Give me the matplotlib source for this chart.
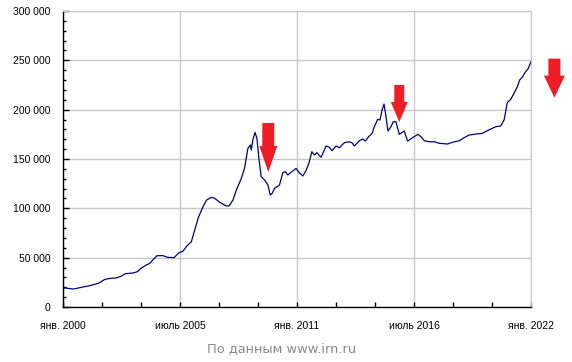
import matplotlib
matplotlib.use('Agg')
import matplotlib.pyplot as plt
import matplotlib.transforms as mtransforms
from matplotlib.patches import Polygon
from matplotlib.ticker import MultipleLocator, FuncFormatter

# months since Jan 2000 and price (rub per sq.m)
months = [0, 6, 10.5, 15, 20, 23.6, 26.5, 30, 33, 35, 39.6, 42, 44, 47, 49,
          51, 53, 56.5, 59, 62.7, 65, 67.7, 70, 72.4, 74.3, 76.4, 79, 81,
          83.7, 85.6, 88.4, 92.1, 93.6, 95.9, 97.8, 100.6, 102.4, 104.3,
          105.7, 106.2, 107.1, 108.3, 109.4, 110.5, 111.8, 113.7, 115.6,
          116.9, 118, 119.3, 122.1, 124, 125.5, 126.8, 129, 131.5, 133,
          135.3, 137, 138.6, 140.4, 141.8, 143.2, 145.6, 148.4, 150.3, 151.8,
          154, 155.9, 158.7, 161.2, 163, 164.4, 167.2, 169, 170.6, 172.4,
          174.4, 175.6, 177.5, 178.8, 180, 181.1, 182.2, 183.3, 185, 186.3,
          187.8, 189.7, 192.5, 194.4, 197.2, 200.2, 201.9, 203.8, 206.6,
          209.4, 212.2, 216.9, 219.7, 223.5, 226.3, 229.1, 232.9, 236.6,
          239.4, 242.2, 244.1, 246.9, 248.8, 249.7, 250.6, 252.6, 254.4,
          256.3, 257.6, 259.1, 260.6, 262.5, 264]
prices = [19500, 18200, 20000, 21600, 24000, 28000, 29000, 29400, 31400,
          33700, 34500, 35800, 39200, 42600, 44300, 48300, 52000, 52000,
          50300, 50000, 54400, 56700, 62100, 66200, 78000, 91000, 101700,
          108400, 111200, 110100, 106100, 102400, 102400, 108400, 118600,
          130400, 140500, 160800, 164200, 159100, 169300, 177000, 171000,
          150700, 132100, 128700, 123600, 113500, 115200, 120300, 123600,
          136100, 137100, 133800, 137100, 140500, 136500, 132800, 138000,
          145000, 157400, 154000, 156400, 151700, 163200, 161800, 158400,
          163200, 161400, 166500, 167500, 166500, 163200, 168500, 170300,
          168200, 172600, 176000, 182700, 190200, 189500, 199700, 205700,
          192900, 178400, 182700, 187800, 187800, 175000, 178400, 168200,
          171600, 175000, 172600, 168500, 167500, 167500, 165900, 165200,
          166900, 168500, 171600, 174300, 175300, 176000, 178700, 181100,
          182700, 183400, 189500, 197900, 207100, 210500, 216600, 223300,
          230100, 232800, 237500, 241900, 248600]

tick_months = [0, 66, 132, 198, 264]
tick_labels = ['янв. 2000', 'июль 2005', 'янв. 2011', 'июль 2016', 'янв. 2022']

# arrows: (tip month, tip price)
arrow_tips = [(115.8, 136800), (189.7, 187500), (277.2, 212200)]

fig = plt.figure(figsize=(5.72, 3.62), dpi=100)
ax = fig.add_axes([63 / 572, 55 / 362, 468 / 572, 296 / 362])

ax.plot(months, prices, color='#000080', lw=0.9)

ax.set_xlim(0, 264)
ax.set_ylim(0, 300000)
ax.set_xticks(tick_months)
ax.set_xticklabels(tick_labels)
ax.xaxis.set_minor_locator(MultipleLocator(22))
ax.yaxis.set_major_locator(MultipleLocator(50000))
ax.yaxis.set_minor_locator(MultipleLocator(10000))
ax.yaxis.set_major_formatter(FuncFormatter(lambda v, p: f'{int(v):,}'.replace(',', ' ')))

ax.grid(True, which='major', color='#c8c8c8', lw=1)
ax.set_axisbelow(True)
for s in ['top', 'right']:
    ax.spines[s].set_color('#c8c8c8')
for s in ['left', 'bottom']:
    ax.spines[s].set_color('black')
    ax.spines[s].set_linewidth(1)

ax.tick_params(axis='y', which='major', direction='in', length=4, width=1, pad=9,
               labelsize=7.5)
ax.tick_params(axis='y', which='minor', direction='in', length=2.5, width=1)
ax.tick_params(axis='x', which='both', direction='in', length=3.5, width=1, pad=10,
               labelsize=7.5)
for lab in ax.get_xticklabels() + ax.get_yticklabels():
    lab.set_family('Liberation Sans')

# red down arrows, shape in pixels relative to the tip
shapes = [
    (49, 26, 9, 6),
    (37, 20, 8.5, 5),
    (39, 22, 10.5, 6),
]
for (mx, my), (total, head, hw, sw) in zip(arrow_tips, shapes):
    verts = [(0, 0), (-hw, head), (-sw, head), (-sw, total), (sw, total),
             (sw, head), (hw, head)]
    verts = [(vx / 100, vy / 100) for vx, vy in verts]
    tr = fig.dpi_scale_trans + mtransforms.ScaledTranslation(mx, my, ax.transData)
    ax.add_patch(Polygon(verts, closed=True, transform=tr, color='#ee1c25',
                         clip_on=False, zorder=5, lw=0))

fig.text(282 / 572, 1 - 349 / 362, 'По данным www.irn.ru', ha='center', va='center',
         color='#8a8a8a', fontsize=9.4, family='DejaVu Sans')

fig.savefig('out.png', dpi=100)
